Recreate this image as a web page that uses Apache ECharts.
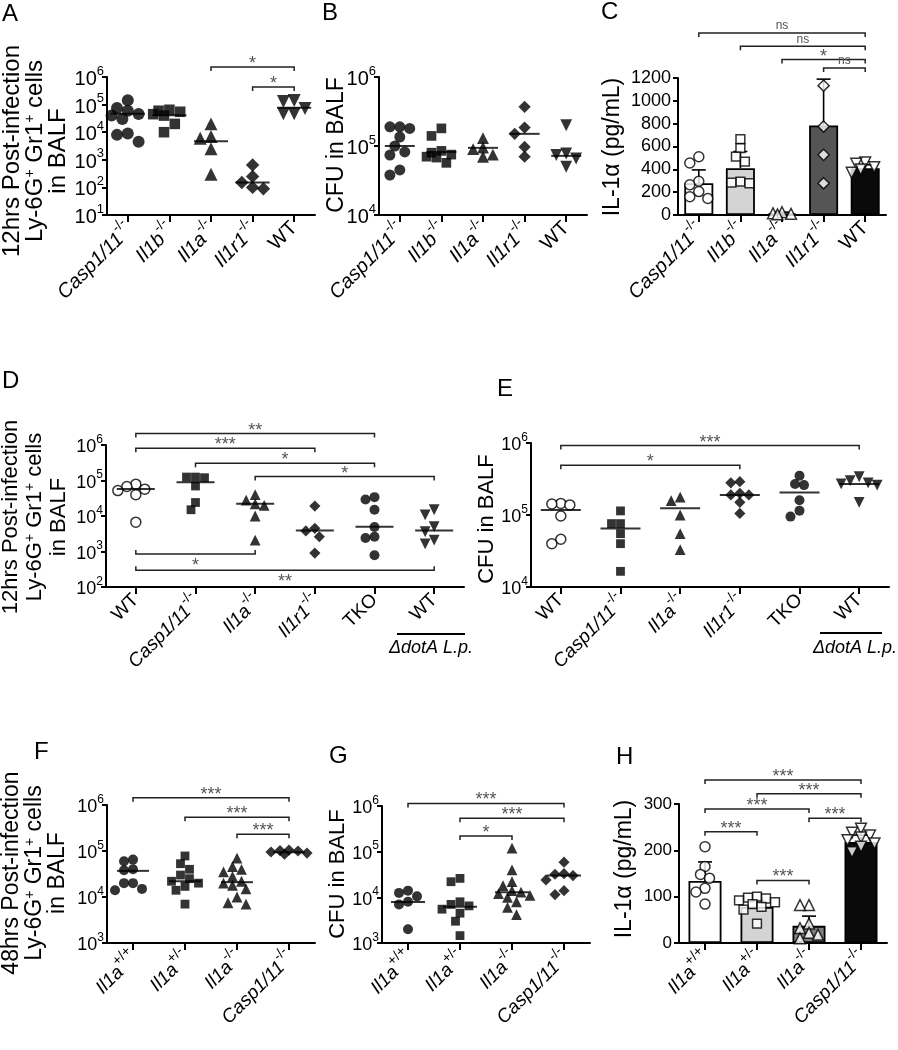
<!DOCTYPE html>
<html>
<head>
<meta charset="utf-8">
<script src="https://cdn.jsdelivr.net/npm/echarts@6.0.0/dist/echarts.min.js"></script>
<style>html,body{margin:0;padding:0;background:#fff}#main{width:898px;height:1050px}</style>
</head>
<body>
<div id="main"></div>
<script>
const FONT = '"Liberation Sans", Arial, Helvetica, sans-serif';

// ---------------- Panel A : neutrophils 12 h (log) ----------------
const catsA = ['Casp1/11 -/-', 'Il1b -/-', 'Il1a -/-', 'Il1r1 -/-', 'WT'];
const aCasp = [1.45e5, 7.5e4, 6e4, 4.6e4, 4e4, 3e4, 9e3, 8e3, 4.5e3];
const aIl1b = [6.5e4, 6e4, 5.5e4, 4.5e4, 4e4, 2e4, 1e4];
const aIl1a = [2e4, 7e3, 6e3, 2.5e3, 3e2];
const aIl1r1 = [650, 250, 150, 100, 90];
const aWT = [1.4e5, 1.3e5, 7.2e4, 4.7e4, 4.7e4];
const aMedian = [4.7e4, 4.1e4, 4.7e3, 150, 7.7e4];
const bracketsA = [[2, 4, '*', 2.3e6], [3, 4, '*', 4.3e5]];

// ---------------- Panel B : CFU 12 h (log) ----------------
const catsB = ['Casp1/11 -/-', 'Il1b -/-', 'Il1a -/-', 'Il1r1 -/-', 'WT'];
const bCasp = [1.9e5, 1.9e5, 1.8e5, 1.35e5, 1.0e5, 8.2e4, 7.4e4, 4.5e4, 3.8e4];
const bIl1b = [1.8e5, 1.4e5, 8.5e4, 8e4, 7.5e4, 7e4, 6.8e4, 5.7e4];
const bIl1a = [1.3e5, 9.5e4, 9e4, 7.5e4, 7e4];
const bIl1r1 = [3.7e5, 1.85e5, 1.5e5, 9.7e4, 7e4];
const bWT = [2e5, 7.8e4, 7.4e4, 6.6e4, 5e4];
const bMedian = [1.0e5, 8.2e4, 9.4e4, 1.5e5, 7.2e4];

// ---------------- Panel C : IL-1a (bars) ----------------
const catsC = ['Casp1/11 -/-', 'Il1b -/-', 'Il1a -/-', 'Il1r1 -/-', 'WT'];
const cCasp = [510, 455, 295, 265, 205, 160, 145];
const cIl1b = [665, 585, 512, 468, 293, 284, 278];
const cIl1a = [25, 15, 10, 5];
const cIl1r1 = [1220, 1133, 775, 527, 278];
const cWT = [460, 450, 420, 400, 370];
const cMean = [278, 410, 15, 785, 410];
const cUpper = [395, 556, 25, 1190, 440];
const bracketsC = [[0, 4, 'ns', 1595], [1, 4, 'ns', 1478], [2, 4, '*', 1361], [3, 4, 'ns', 1288]];

// ---------------- Panel D : neutrophils 12 h incl. TKO (log) ----------------
const catsD = ['WT', 'Casp1/11 -/-', 'Il1a -/-', 'Il1r1 -/-', 'TKO', 'WT'];
const dWT = [7.9e4, 6.8e4, 5.7e4, 5.2e4, 4e4, 6.7e3];
const dCasp = [1.25e5, 1.25e5, 1.2e5, 7e4, 2.4e4, 1.5e4];
const dIl1a = [4e4, 2.8e4, 2.2e4, 2e4, 1e4, 2.1e3];
const dIl1r1 = [1.9e4, 4.5e3, 3.8e3, 2.6e3, 9e2];
const dTKO = [3.4e4, 2.9e4, 1.5e4, 4.9e3, 2.6e3, 2.4e3, 7.8e2];
const dDot = [1.5e4, 1.07e4, 5e3, 3.6e3, 2.1e3, 1.65e3];
const dMedian = [5.8e4, 8.9e4, 2.2e4, 3.9e3, 5e3, 3.9e3];
const bracketsD = [[0, 4, '**', 2.1e6], [0, 3, '***', 8.1e5], [1, 4, '*', 3.05e5], [2, 5, '*', 1.29e5],
                   [0, 2, '*', 8.5e2, 'up'], [0, 5, '**', 2.96e2, 'up']];

// ---------------- Panel E : CFU 12 h incl. TKO (log) ----------------
const catsE = ['WT', 'Casp1/11 -/-', 'Il1a -/-', 'Il1r1 -/-', 'TKO', 'WT'];
const eWT = [1.45e5, 1.42e5, 1.38e5, 9.7e4, 4.6e4, 4e4];
const eCasp = [1.14e5, 7.6e4, 7.6e4, 5.5e4, 4e4, 1.65e4];
const eIl1a = [1.77e5, 1.58e5, 1e5, 5.5e4, 3.3e4];
const eIl1r1 = [2.9e5, 2.8e5, 2e5, 1.9e5, 1.9e5, 1.5e5, 1.05e5];
const eTKO = [3.5e5, 2.7e5, 2.6e5, 1.6e5, 1.15e5, 9.5e4];
const eDot = [3.4e5, 3e5, 2.8e5, 2.7e5, 2.6e5, 1.5e5];
const eMedian = [1.17e5, 6.5e4, 1.24e5, 1.9e5, 2.05e5, 2.7e5];
const bracketsE = [[0, 5, '***', 9.2e5], [0, 3, '*', 4.9e5]];

// ---------------- Panel F : neutrophils 48 h (log) ----------------
const catsF = ['Il1a +/+', 'Il1a +/-', 'Il1a -/-', 'Casp1/11 -/-'];
const fWT = [6.5e4, 6e4, 4e4, 3.8e4, 2e4, 2e4, 1.5e4, 1.4e4];
const fHet = [7.8e4, 5.3e4, 4e4, 3e4, 2.5e4, 2.2e4, 2e4, 1.7e4, 1.4e4, 7e3];
const fKO = [7e4, 4.6e4, 4e4, 3.5e4, 2.8e4, 2.2e4, 2e4, 1.8e4, 1.5e4, 1e4, 7.5e3, 7e3];
const fCasp = [1.05e5, 1.02e5, 1e5, 9.5e4, 9e4, 8.5e4];
const fMedian = [3.7e4, 2.2e4, 2.1e4, 9.4e4];
const bracketsF = [[0, 3, '***', 1.44e6], [1, 3, '***', 5.4e5], [2, 3, '***', 2.3e5]];

// ---------------- Panel G : CFU 48 h (log) ----------------
const catsG = ['Il1a +/+', 'Il1a +/-', 'Il1a -/-', 'Casp1/11 -/-'];
const gWT = [1.4e4, 1.25e4, 1.05e4, 8e3, 7e3, 2e3];
const gHet = [2.6e4, 2.2e4, 8e3, 7e3, 6.5e3, 5.5e3, 4.5e3, 3e3, 1.45e3];
const gKO = [1.2e5, 4e4, 2.2e4, 1.8e4, 1.4e4, 1.3e4, 1.2e4, 1.1e4, 1e4, 8e3, 6e3, 4.2e3];
const gCasp = [5.9e4, 3.3e4, 3.2e4, 3e4, 2.4e4, 1.4e4, 1.15e4];
const gMedian = [7.9e3, 6.2e3, 1.3e4, 3e4];
const bracketsG = [[0, 3, '***', 1.14e6], [1, 3, '***', 5.4e5], [1, 2, '*', 2.2e5]];

// ---------------- Panel H : IL-1a 48 h (bars) ----------------
const catsH = ['Il1a +/+', 'Il1a +/-', 'Il1a -/-', 'Casp1/11 -/-'];
const hWT = [208, 165, 148, 140, 118, 110, 84];
const hHet = [100, 98, 96, 92, 88, 84, 78, 72, 42];
const hKO = [82, 82, 42, 32, 22, 18, 10];
const hCasp = [247, 238, 232, 228, 222, 215, 208, 196];
const hMean = [134, 78, 37, 218];
const hUpper = [175, 92, 58, 233];
const bracketsH = [[0, 3, '***', 352], [1, 3, '***', 322], [0, 2, '***', 289], [2, 3, '***', 269],
                   [0, 1, '***', 240], [1, 2, '***', 135]];

// ---------------- layout / style ----------------
const panels = [
  {grid: {left: 107, top: 77, width: 208, height: 138}, cats: catsA, groups: [aCasp, aIl1b, aIl1a, aIl1r1, aWT],
   medians: aMedian, shapes: ['circle', 'rect', 'triangle', 'diamond', 'itri'], hollow: [0, 0, 0, 0, 0],
   log: [1, 6], size: 12, lineW: 34, brackets: bracketsA, yFont: 20, xFont: 20},
  {grid: {left: 379, top: 77, width: 208, height: 138}, cats: catsB, groups: [bCasp, bIl1b, bIl1a, bIl1r1, bWT],
   medians: bMedian, shapes: ['circle', 'rect', 'triangle', 'diamond', 'itri'], hollow: [0, 0, 0, 0, 0],
   log: [4, 6], size: 11, lineW: 30, brackets: [], yFont: 20, xFont: 20},
  {grid: {left: 678, top: 78, width: 208, height: 137}, cats: catsC, groups: [cCasp, cIl1b, cIl1a, cIl1r1, cWT],
   shapes: ['circle', 'rect', 'triangle', 'diamond', 'itri'], hollow: [1, 1, 1, 1, 1],
   lin: [1200, 200], size: 10, bars: {mean: cMean, upper: cUpper, colors: ['#ffffff', '#d4d4d4', '#9a9a9a', '#555555', '#0a0a0a'], width: 29},
   brackets: bracketsC, yFont: 18, xFont: 20},
  {grid: {left: 106, top: 445, width: 358, height: 142}, cats: catsD, groups: [dWT, dCasp, dIl1a, dIl1r1, dTKO, dDot],
   medians: dMedian, shapes: ['circle', 'rect', 'triangle', 'diamond', 'circle', 'itri'], hollow: [1, 0, 0, 0, 0, 0],
   log: [2, 6], size: 10, lineW: 38, brackets: bracketsD, yFont: 18, xFont: 19},
  {grid: {left: 531, top: 443, width: 358, height: 144}, cats: catsE, groups: [eWT, eCasp, eIl1a, eIl1r1, eTKO, eDot],
   medians: eMedian, shapes: ['circle', 'rect', 'triangle', 'diamond', 'circle', 'itri'], hollow: [1, 0, 0, 0, 0, 0],
   log: [4, 6], size: 10, lineW: 40, brackets: bracketsE, yFont: 18, xFont: 19},
  {grid: {left: 107, top: 805, width: 208, height: 138}, cats: catsF, groups: [fWT, fHet, fKO, fCasp],
   medians: fMedian, shapes: ['circle', 'rect', 'triangle', 'diamond'], hollow: [0, 0, 0, 0],
   log: [3, 6], size: 10, lineW: 32, brackets: bracketsF, yFont: 18, xFont: 19},
  {grid: {left: 382, top: 806, width: 208, height: 137}, cats: catsG, groups: [gWT, gHet, gKO, gCasp],
   medians: gMedian, shapes: ['circle', 'rect', 'triangle', 'diamond'], hollow: [0, 0, 0, 0],
   log: [3, 6], size: 10, lineW: 34, brackets: bracketsG, yFont: 18, xFont: 19},
  {grid: {left: 679, top: 804, width: 208, height: 139}, cats: catsH, groups: [hWT, hHet, hKO, hCasp],
   shapes: ['circle', 'rect', 'triangle', 'itri'], hollow: [1, 1, 1, 1],
   lin: [300, 100], size: 10, bars: {mean: hMean, upper: hUpper, colors: ['#ffffff', '#d4d4d4', '#808080', '#0a0a0a'], width: 33},
   brackets: bracketsH, yFont: 17, xFont: 19}
];

function catLabel(s) {
  const m = s.match(/^(.*?)\s([-+]\/[-+])$/);
  if (!m) return '{n|' + s + '}';
  return '{i|' + m[1] + '}{s|' + m[2] + '}';
}
function richX(f) {
  return {
    i: {fontSize: f, fontStyle: 'italic', fontFamily: FONT, color: '#000', padding: [6, 0, 0, 0]},
    n: {fontSize: f, fontFamily: FONT, color: '#000'},
    s: {fontSize: Math.round(f * 0.72), fontFamily: FONT, color: '#000', verticalAlign: 'top'}
  };
}
function symOf(shape, size) {
  if (shape === 'itri') return {symbol: 'triangle', symbolRotate: 180, symbolSize: size * 1.08};
  if (shape === 'triangle') return {symbol: 'triangle', symbolSize: size * 1.08};
  if (shape === 'rect') return {symbol: 'rect', symbolSize: size * 0.88};
  if (shape === 'diamond') return {symbol: 'diamond', symbolSize: size * 1.12};
  return {symbol: 'circle', symbolSize: size};
}
// beeswarm: horizontal pixel offsets so that markers overlap little, kept inside maxSpread
function swarm(ys, d, maxSpread) {
  const order = ys.map((y, i) => i).sort((a, b) => ys[b] - ys[a]);
  const placed = [], off = [];
  const step = d * 0.45;
  const nMax = Math.max(1, Math.floor(maxSpread / step));
  order.forEach(i => {
    let best = 0, bestScore = -1;
    for (let k = 0; k <= 2 * nMax; k++) {
      const dx = k === 0 ? 0 : (k % 2 ? -1 : 1) * Math.ceil(k / 2) * step;
      const minD = placed.reduce((m, q) => Math.min(m, Math.hypot(q[0] - dx, q[1] - ys[i])), Infinity);
      if (minD >= d * 0.85) { best = dx; bestScore = Infinity; break; }
      if (minD > bestScore) { bestScore = minD; best = dx; }
    }
    placed.push([best, ys[i]]); off[i] = best;
  });
  return off;
}

const grids = [], xAxes = [], yAxes = [], series = [];
panels.forEach((p, gi) => {
  grids.push(Object.assign({containLabel: false}, p.grid));
  xAxes.push({
    gridIndex: gi, type: 'category', data: p.cats,
    axisLine: {show: true, onZero: false, lineStyle: {color: '#000', width: 2}},
    axisTick: {show: true, alignWithLabel: true, length: 7, lineStyle: {color: '#000', width: 2}},
    axisLabel: {interval: 0, rotate: 45, margin: 10, formatter: catLabel, rich: richX(p.xFont)},
    splitLine: {show: false}
  });
  const yAx = {
    gridIndex: gi,
    axisLine: {show: true, onZero: false, lineStyle: {color: '#000', width: 2}},
    axisTick: {show: true, length: 5, lineStyle: {color: '#000', width: 2}},
    splitLine: {show: false}, minorTick: {show: false}, minorSplitLine: {show: false}
  };
  if (p.log) {
    Object.assign(yAx, {
      type: 'log', logBase: 10, min: Math.pow(10, p.log[0]), max: Math.pow(10, p.log[1]),
      axisLabel: {
        margin: 3,
        formatter: v => '{b|10}{s|' + Math.round(Math.log10(v)) + '}',
        rich: {
          b: {fontSize: p.yFont, fontFamily: FONT, color: '#000', padding: [5, 0, 0, 0]},
          s: {fontSize: Math.round(p.yFont * 0.65), fontFamily: FONT, color: '#000', verticalAlign: 'top'}
        }
      }
    });
  } else {
    Object.assign(yAx, {
      type: 'value', min: 0, max: p.lin[0], interval: p.lin[1],
      axisLabel: {margin: 7, fontSize: p.yFont, fontFamily: FONT, color: '#000', formatter: v => String(v)}
    });
  }
  yAxes.push(yAx);

  const h = p.grid.height;
  const band = p.grid.width / p.cats.length;
  const toPx = p.log ? (v => (Math.log10(v) - p.log[0]) / (p.log[1] - p.log[0]) * h)
                     : (v => v / p.lin[0] * h);

  if (p.bars) {
    series.push({
      type: 'bar', xAxisIndex: gi, yAxisIndex: gi, barWidth: p.bars.width, z: 2, silent: true,
      data: p.bars.mean.map((m, i) => ({value: m, itemStyle: {color: p.bars.colors[i], borderColor: '#000', borderWidth: 1.8}}))
    });
    series.push({
      type: 'custom', xAxisIndex: gi, yAxisIndex: gi, z: 3, silent: true,
      encode: {x: 0, y: [1, 2]},
      data: p.bars.mean.map((m, i) => [i, m, p.bars.upper[i]]),
      renderItem: function (params, api) {
        const a = api.coord([api.value(0), api.value(1)]);
        const b = api.coord([api.value(0), api.value(2)]);
        const st = {stroke: '#000', lineWidth: 1.6};
        return {type: 'group', children: [
          {type: 'line', shape: {x1: a[0], y1: a[1], x2: b[0], y2: b[1]}, style: st},
          {type: 'line', shape: {x1: b[0] - 7, y1: b[1], x2: b[0] + 7, y2: b[1]}, style: st}
        ]};
      }
    });
  }

  const pts = [];
  p.groups.forEach((vals, ci) => {
    const offs = swarm(vals.map(toPx), p.size, band * 0.4);
    const hollow = p.hollow[ci];
    vals.forEach((v, k) => {
      pts.push(Object.assign({
        value: [ci, v], symbolOffset: [offs[k], 0],
        itemStyle: {color: hollow ? '#fff' : '#000', borderColor: '#000', borderWidth: hollow ? 1.5 : 0}
      }, symOf(p.shapes[ci], p.size)));
    });
  });
  series.push({type: 'scatter', xAxisIndex: gi, yAxisIndex: gi, data: pts, z: 4, silent: true});

  if (p.medians) {
    series.push({
      type: 'scatter', xAxisIndex: gi, yAxisIndex: gi, z: 5, silent: true,
      symbol: 'rect', symbolSize: [p.lineW, 2], itemStyle: {color: '#000'},
      data: p.medians.map((m, i) => [i, m])
    });
  }

  if (p.brackets.length) {
    const list = p.brackets;
    series.push({
      type: 'custom', xAxisIndex: gi, yAxisIndex: gi, z: 10, silent: true, clip: false,
      encode: {x: [0, 1], y: 2},
      data: list.map(b => [b[0], b[1], b[3]]),
      renderItem: function (params, api) {
        const b = list[params.dataIndex];
        const p1 = api.coord([b[0], b[3]]);
        const p2 = api.coord([b[1], b[3]]);
        const up = b[4] === 'up';
        const tk = up ? -4 : 4;
        const isNs = b[2] === 'ns';
        const fs = isNs ? 12 : 18;
        let ty;
        if (up) ty = p1[1] + 12;
        else ty = p1[1] - (isNs ? 7 : 3);
        return {type: 'group', children: [
          {type: 'polyline', shape: {points: [[p1[0], p1[1] + tk], [p1[0], p1[1]], [p2[0], p2[1]], [p2[0], p2[1] + tk]]},
           style: {stroke: '#222', lineWidth: 1.5, fill: null}},
          {type: 'text', x: (p1[0] + p2[0]) / 2, y: ty,
           style: {text: b[2], fill: '#555', fontSize: fs, fontFamily: FONT, align: 'center', verticalAlign: 'middle'}}
        ]};
      }
    });
  }
});

// ---------------- text annotations (panel letters, axis titles) ----------------
const plusRich = {s: {fontSize: 14, fontFamily: FONT, fill: '#000', verticalAlign: 'top'}};
function yTitle(x, y, text, fs, lh) {
  return {type: 'text', x: x, y: y, rotation: Math.PI / 2, silent: true,
    style: {text: text, fontSize: fs, fontFamily: FONT, fill: '#000', align: 'center', verticalAlign: 'middle',
            lineHeight: lh || fs, rich: plusRich}};
}
function letter(t, x, y) {
  return {type: 'text', x: x, y: y, silent: true,
    style: {text: t, fontSize: 24, fontFamily: FONT, fill: '#000', align: 'left', verticalAlign: 'top'}};
}
const neutroTitle = h => h + ' Post-infection\nLy-6G{s|+} Gr1{s|+} cells\nin BALF';
const graphics = [
  letter('A', 2, 2), letter('B', 322, 1), letter('C', 601, 0), letter('D', 2, 369),
  letter('E', 497, 377), letter('F', 34, 740), letter('G', 329, 744), letter('H', 616, 745),
  yTitle(35, 151, neutroTitle('12hrs'), 24, 23),
  yTitle(35, 517, neutroTitle('12hrs'), 22, 24),
  yTitle(35, 873, neutroTitle('48hrs'), 23, 23),
  yTitle(337, 145, 'CFU in BALF', 23),
  yTitle(487, 519, 'CFU in BALF', 22),
  yTitle(338, 874, 'CFU in BALF', 22),
  yTitle(613, 147, 'IL-1\u03b1 (pg/mL)', 23),
  yTitle(625, 869, 'IL-1\u03b1 (pg/mL)', 23),
  {type: 'line', shape: {x1: 397, y1: 634, x2: 465, y2: 634}, style: {stroke: '#000', lineWidth: 2}, silent: true},
  {type: 'text', x: 431, y: 648, silent: true,
   style: {text: '\u0394dotA L.p.', fontSize: 18, fontStyle: 'italic', fontFamily: FONT, fill: '#000', align: 'center', verticalAlign: 'middle'}},
  {type: 'line', shape: {x1: 820, y1: 633, x2: 882, y2: 633}, style: {stroke: '#000', lineWidth: 2}, silent: true},
  {type: 'text', x: 855, y: 648, silent: true,
   style: {text: '\u0394dotA L.p.', fontSize: 18, fontStyle: 'italic', fontFamily: FONT, fill: '#000', align: 'center', verticalAlign: 'middle'}}
];

const chart = echarts.init(document.getElementById('main'), null, {renderer: 'canvas'});
chart.setOption({
  animation: false,
  backgroundColor: '#fff',
  textStyle: {fontFamily: FONT},
  grid: grids, xAxis: xAxes, yAxis: yAxes, series: series,
  graphic: graphics
});
</script>
</body>
</html>
